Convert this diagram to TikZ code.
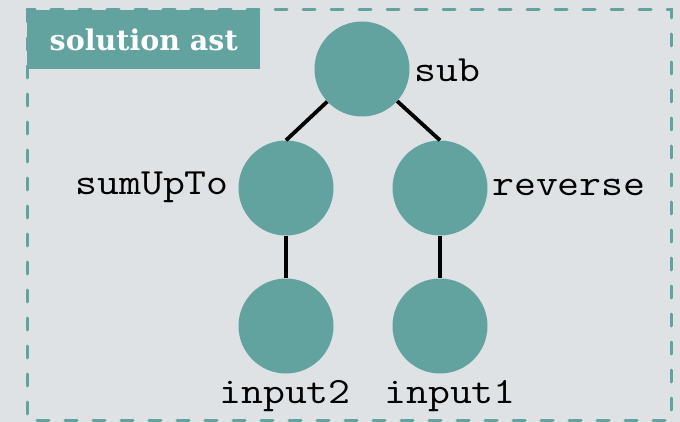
\documentclass[tikz,border=0pt]{standalone}
\usepackage{fontspec}
\setmonofont{Latin Modern Mono}[FakeStretch=1.15]
\newfontfamily\titlefont{DejaVu Serif}
\definecolor{astgreen}{RGB}{98,163,159}
\definecolor{astbg}{RGB}{222,226,229}
\begin{document}
\begin{tikzpicture}[x=1pt, y=-1pt,
  astnode/.style={circle, fill=astgreen, minimum size=95pt, inner sep=0pt},
  astlabel/.style={font=\fontsize{37}{40}\selectfont\ttfamily, inner sep=0pt},
  astedge/.style={line width=3.8pt}]
% 背景
\fill[astbg] (0,0) rectangle (680,422);
\useasboundingbox (0,0) rectangle (680,422);

% タイトル
\node[fill=astgreen, anchor=north west, minimum width=233pt, minimum height=59pt,
      text=white, font=\fontsize{28.5}{30}\selectfont\titlefont\bfseries] (title) at (27,10) {solution ast};

% 枠(破線)
\draw[astgreen, line width=3pt, line cap=round, dash pattern=on 12pt off 16pt] (27,10) rectangle (671,420);

% ノード(座標で配置)
\node[astnode] (sub)     at (362,69)  {};
\node[astnode] (sumUpTo) at (286,188) {};
\node[astnode] (reverse) at (440,188) {};
\node[astnode] (input2)  at (286,326) {};
\node[astnode] (input1)  at (440,326) {};

% 枝
\draw[astedge] (sub) -- (sumUpTo.north);
\draw[astedge] (sub) -- (reverse.north);
\draw[astedge] (sumUpTo) -- (input2);
\draw[astedge] (reverse) -- (input1);

% 名前
\node[astlabel, anchor=base west] (subname)     at (414,82)  {sub};
\node[astlabel, anchor=base east] (sumUpToname) at (229,195) {sumUpTo};
\node[astlabel, anchor=base west] (reversename) at (492,196) {reverse};
\node[astlabel, anchor=base]      (input2name)  at (285,403) {input2};
\node[astlabel, anchor=base]      (input1name)  at (450,403) {input1};
\end{tikzpicture}
\end{document}
